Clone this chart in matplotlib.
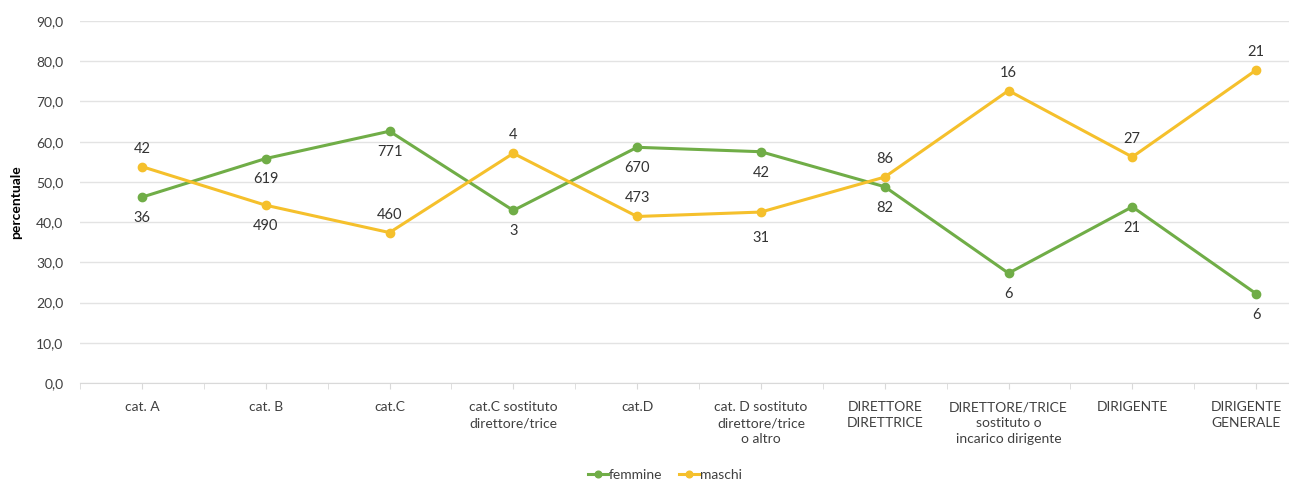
import numpy as np
import matplotlib.pyplot as plt
import matplotlib.transforms as mtrans
from matplotlib.ticker import FuncFormatter

categorie = ["cat. A", "cat. B", "cat.C", "cat.C sostituto\ndirettore/trice", "cat.D",
             "cat. D sostituto\ndirettore/trice\no altro", "DIRETTORE\nDIRETTRICE",
             "DIRETTORE/TRICE\nsostituto o\nincarico dirigente", "DIRIGENTE",
             "DIRIGENTE\nGENERALE"]

# percentuali
femmine = [46.2, 55.8, 62.6, 42.9, 58.6, 57.5, 48.8, 27.3, 43.8, 22.2]
maschi = [53.8, 44.2, 37.4, 57.1, 41.4, 42.5, 51.2, 72.7, 56.2, 77.8]

# etichette: numeri assoluti
n_femmine = [36, 619, 771, 3, 670, 42, 82, 6, 21, 6]
n_maschi = [42, 490, 460, 4, 473, 31, 86, 16, 27, 21]

# offset etichette in punti (negativo = sotto)
off_f = [-15, -15, -15, -15, -15, -15, -15, -15, -15, -15]
off_m = [13, -15, 13, 13, 13, -19, 13, 13, 13, 13]

plt.rcParams['font.family'] = ['Lato', 'DejaVu Sans']
verde = '#70AD47'
giallo = '#F5C02C'

fig = plt.figure(figsize=(12.89, 4.83), dpi=100)
ax = fig.add_axes([80 / 1289, 1 - 383 / 483, 1238 / 1289, 362 / 483])

x = np.arange(len(categorie))
ax.plot(x, femmine, color=verde, lw=2.2, marker='o', ms=6, label='femmine', zorder=3)
ax.plot(x, maschi, color=giallo, lw=2.2, marker='o', ms=6, label='maschi', zorder=3)

for xi, v, n, o in zip(x, femmine, n_femmine, off_f):
    ax.annotate(str(n), (xi, v), xytext=(0, o), textcoords='offset points',
                ha='center', va='center', fontsize=10.5, color='#333333')
for xi, v, n, o in zip(x, maschi, n_maschi, off_m):
    ax.annotate(str(n), (xi, v), xytext=(0, o), textcoords='offset points',
                ha='center', va='center', fontsize=10.5, color='#333333')

ax.set_xlim(-0.5, len(categorie) - 0.5)
ax.set_ylim(0, 90)
ax.set_yticks(np.arange(0, 91, 10))
ax.yaxis.set_major_formatter(FuncFormatter(lambda v, p: f"{v:.1f}".replace('.', ',')))
ax.set_xticks(x)
ax.set_xticklabels(categorie, fontsize=10, color='#404040', linespacing=1.4)
ax.set_xticks(np.arange(-0.5, len(categorie), 1), minor=True)
ax.tick_params(axis='x', which='both', length=4, color='#D9D9D9', pad=9)
ax.tick_params(axis='y', length=0, labelsize=10, labelcolor='#404040', pad=12)

# l'ultima etichetta sta sul bordo: spostata un poco a sinistra
ultima = ax.get_xticklabels()[-1]
ultima.set_transform(ultima.get_transform() +
                     mtrans.ScaledTranslation(-10 / 100, 0, fig.dpi_scale_trans))

ax.grid(axis='y', color='#E3E3E3', lw=1)
ax.set_axisbelow(True)
for s in ['top', 'right', 'left']:
    ax.spines[s].set_visible(False)
ax.spines['bottom'].set_color('#D9D9D9')

ax.set_ylabel('percentuale', fontsize=10, fontweight='bold', labelpad=10)

fig.legend(loc='center', bbox_to_anchor=(665 / 1289, 1 - 475 / 483), ncol=2,
           frameon=False, fontsize=10, handlelength=1.4, handletextpad=0.1,
           columnspacing=1.2, markerscale=0.8, labelcolor='#404040')

fig.savefig('out.png', dpi=100)
